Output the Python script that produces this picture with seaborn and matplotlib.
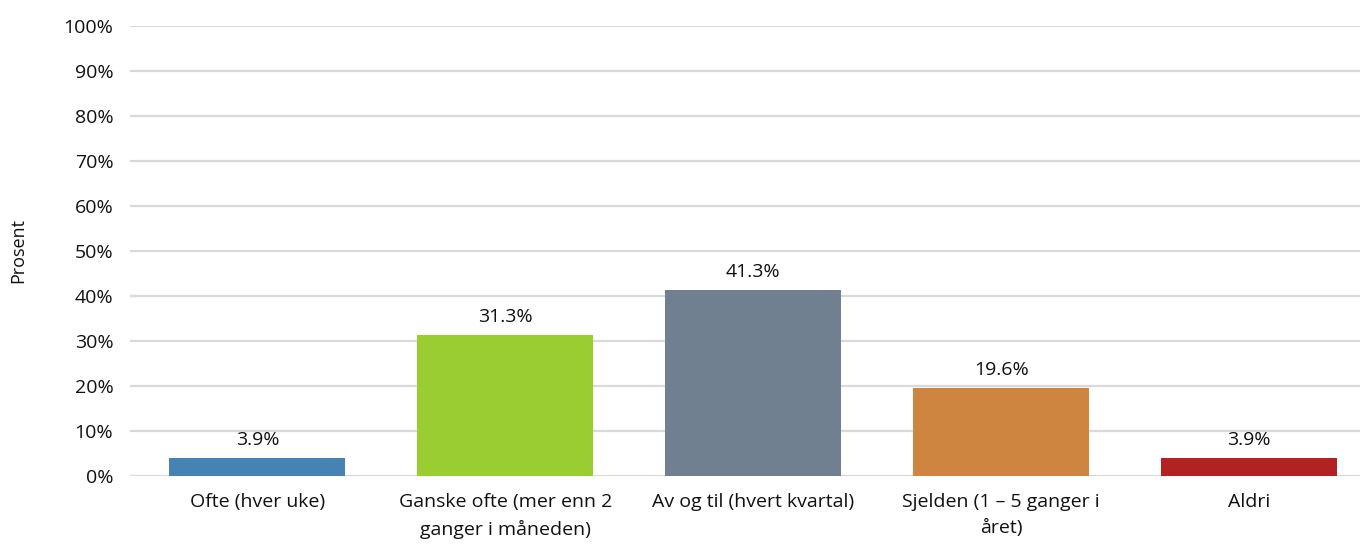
import matplotlib
matplotlib.use("Agg")
import matplotlib.pyplot as plt
import seaborn as sns
import pandas as pd
from matplotlib.ticker import PercentFormatter

categories = [
    "Ofte (hver uke)",
    "Ganske ofte (mer enn 2\nganger i måneden)",
    "Av og til (hvert kvartal)",
    "Sjelden (1 – 5 ganger i\nåret)",
    "Aldri",
]
values = [3.9, 31.3, 41.3, 19.6, 3.9]
colors = ["#4682B4", "#9ACD32", "#708090", "#CD853F", "#B22222"]

sns.set_theme(style="white")
plt.rcParams["font.family"] = ["Open Sans", "DejaVu Sans"]

df = pd.DataFrame({"kategori": categories, "prosent": values})

fig = plt.figure(figsize=(13.65, 5.52), dpi=100)
ax = fig.add_axes([0.0952, 0.1377, 0.9008, 0.8152])

sns.barplot(data=df, x="kategori", y="prosent", hue="kategori",
            palette=colors, legend=False, width=0.71, saturation=1,
            linewidth=0, ax=ax)

for i, v in enumerate(values):
    ax.text(i, v + 2.0, f"{v:.1f}%", ha="center", va="bottom", fontsize=14, color="#111111")

ax.set_ylim(0, 100)
ax.set_xlim(-0.514, 4.445)
ax.set_yticks(range(0, 101, 10))
ax.yaxis.set_major_formatter(PercentFormatter(decimals=0))
ax.grid(axis="y", color="#d9d9d9", linewidth=1.6)
ax.set_axisbelow(True)
for s in ax.spines.values():
    s.set_visible(False)
ax.tick_params(axis="both", length=0, labelsize=14, colors="#111111")
ax.tick_params(axis="y", pad=12)
ax.tick_params(axis="x", pad=12)
ax.set_xticks(range(len(categories)), labels=categories,
              multialignment="center", linespacing=1.6)
ax.set_xlabel("")
ax.set_ylabel("Prosent", fontsize=13, color="#111111", labelpad=26)

fig.savefig("out.png", dpi=100)
